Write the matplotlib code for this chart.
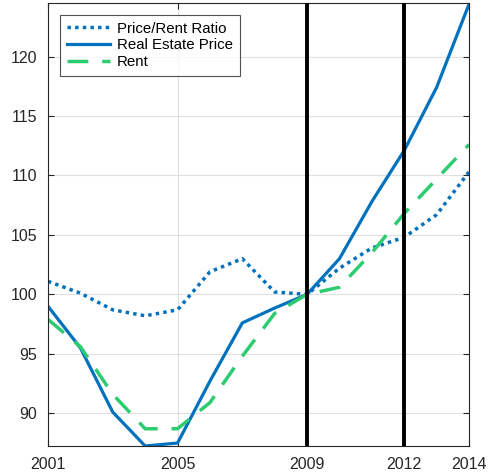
import matplotlib
matplotlib.use("Agg")
import matplotlib.pyplot as plt

years = list(range(2001, 2015))
price_rent_ratio = [101.1, 100.1, 98.7, 98.2, 98.7, 101.9, 103.0, 100.2, 100.0, 102.2, 103.9, 104.8, 106.7, 110.3]
real_estate_price = [99.0, 95.5, 90.1, 87.25, 87.5, 92.7, 97.6, 98.85, 100.0, 103.0, 107.8, 112.1, 117.4, 124.4]
rent = [97.9, 95.6, 91.6, 88.7, 88.7, 90.9, 94.8, 98.4, 100.0, 100.6, 103.5, 106.8, 109.7, 112.6]
xticks = [2001, 2005, 2009, 2012, 2014]
yticks = [90, 95, 100, 105, 110, 115, 120]
vlines = [2009, 2012]

blue = "#0072BD"
green = "#2ECC71"

plt.rcParams['font.family'] = ['Liberation Sans', 'DejaVu Sans']
fig = plt.figure(figsize=(4.88, 4.75), dpi=100)
ax = fig.add_axes([48/488, 29/475, 421/488, 443/475])

ax.plot(years, price_rent_ratio, color=blue, lw=2.5, linestyle=(0, (1, 1.2)), label="Price/Rent Ratio")
ax.plot(years, real_estate_price, color=blue, lw=2.3, label="Real Estate Price")
ax.plot(years, rent, color=green, lw=2.5, linestyle=(0, (6, 4)), label="Rent")
for v in vlines:
    ax.axvline(v, color="black", lw=2.8, zorder=3)

ax.set_xlim(2001, 2014)
ax.set_ylim(87.25, 124.5)
ax.set_xticks(xticks)
ax.set_yticks(yticks)
ax.grid(True, color="#e0e0e0", lw=0.8)
ax.set_axisbelow(True)
ax.tick_params(direction="in", top=True, right=True, labelsize=11.5, colors="#262626", length=4, pad=8)
for s in ax.spines.values():
    s.set_color("#262626")
    s.set_linewidth(0.8)

leg = ax.legend(loc="upper left", bbox_to_anchor=(0.028, 0.973), fontsize=10.8, frameon=True,
                fancybox=False, edgecolor="#262626", handlelength=2.9, borderpad=0.45,
                labelspacing=0.18, handletextpad=0.45, borderaxespad=0)
leg.get_frame().set_linewidth(0.8)

fig.savefig("out.png", dpi=100)
